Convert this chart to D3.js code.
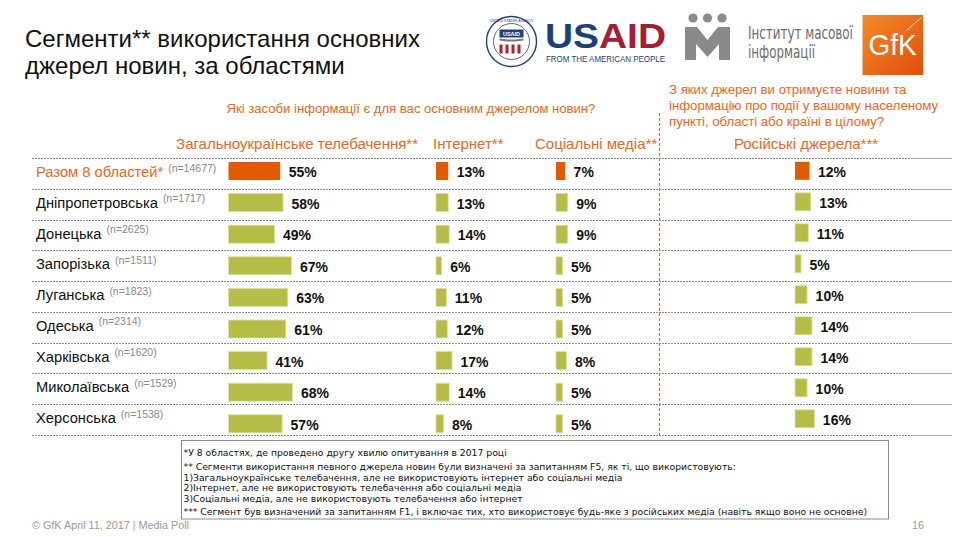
<!DOCTYPE html>
<html>
<head>
<meta charset="utf-8">
<script src="https://cdn.jsdelivr.net/npm/d3@7"></script>
<style>
  html, body { margin: 0; padding: 0; background: #fff; }
  svg { display: block; font-family: "Liberation Sans", Arial, sans-serif; }
  .narrow { font-family: "Liberation Sans Narrow", "Arial Narrow", "DejaVu Sans Condensed", sans-serif; font-stretch: condensed; }
</style>
</head>
<body>
<svg id="chart" width="956" height="537"></svg>
<script>
// ---------------- DATA ----------------
const regions = ["Разом 8 областей*", "Дніпропетровська", "Донецька", "Запорізька", "Луганська", "Одеська", "Харківська", "Миколаївська", "Херсонська"];
const sampleSizes = ["14677", "1717", "2625", "1511", "1823", "2314", "1620", "1529", "1538"];
const tvValues = [55, 58, 49, 67, 63, 61, 41, 68, 57];
const internetValues = [13, 13, 14, 6, 11, 12, 17, 14, 8];
const socialValues = [7, 9, 9, 5, 5, 5, 8, 5, 5];
const russianValues = [12, 13, 11, 5, 10, 14, 14, 10, 16];
const columnTitles = ["Загальноукраїнське телебачення**", "Інтернет**", "Соціальні медіа**", "Російські джерела***"];
const titleLines = ["Сегменти** використання основних", "джерел новин, за областями"];
const question1 = "Які засоби інформації є для вас основним джерелом новин?";
const question2Lines = ["З яких джерел ви отримуєте новини та", "інформацію про події у вашому населеному", "пункті, області або країні в цілому?"];
const footnoteLines = [
  "*У 8 областях, де проведено другу хвилю опитування в 2017 році",
  "** Сегменти використання певного джерела новин були визначені за запитанням F5, як ті, що використовують:",
  "1)Загальноукраїнське телебачення, але не використовують інтернет або соціальні медіа",
  "2)Інтернет, але не використовують телебачення або соціальні медіа",
  "3)Соціальні медіа, але не використовують телебачення або інтернет",
  "*** Сегмент був визначений за запитанням F1, і включає тих, хто використовує будь-яке з російських медіа (навіть якщо воно не основне)"
];
const imiLines = ["Інститут масової", "інформації"];
const footerText = ["© GfK April 11, 2017 ", "|", " Media Poll"];
const pageNumber = "16";

// ---------------- STYLE ----------------
const ORANGE_BAR = "#E25B04";
const GREEN_BAR = "#B6BD47";
const ORANGE_TEXT = "#E8681C";

const svg = d3.select("#chart");

// ---------------- TITLE ----------------
svg.append("g").selectAll("text").data(titleLines).join("text")
  .attr("x", 25).attr("y", (d, i) => 47 + i * 27)
  .attr("font-size", 24).attr("fill", "#111").text(d => d);

// ---------------- LOGOS ----------------
const logos = svg.append("g");
// USAID seal
const seal = logos.append("g").attr("transform", "translate(511.5,41.5)");
seal.append("circle").attr("r", 25).attr("fill", "#fff").attr("stroke", "#24407a").attr("stroke-width", 1.4);
seal.append("circle").attr("r", 18).attr("fill", "#fff").attr("stroke", "#24407a").attr("stroke-width", 0.8);
seal.append("rect").attr("x", -12).attr("y", -12).attr("width", 24).attr("height", 8).attr("fill", "#24407a");
seal.append("text").attr("x", 0).attr("y", -5.5).attr("text-anchor", "middle").attr("font-size", 5.5).attr("font-weight", "bold").attr("fill", "#fff").text("USAID");
seal.append("path").attr("d", "M-12,-2 L-4,-1 L4,-1 L12,-2").attr("stroke", "#777").attr("stroke-width", 2).attr("fill", "none");
[0, 1, 2, 3].forEach(k => {
  seal.append("rect").attr("x", -12 + k * 6).attr("y", 3).attr("width", 3).attr("height", 9).attr("fill", "#b3202e");
});
seal.append("text").attr("font-size", 3.6).attr("fill", "#24407a").attr("text-anchor", "middle").attr("y", -19.5).text("UNITED STATES AGENCY");
// USAID wordmark
const usaid = logos.append("text").attr("x", 545).attr("y", 48).attr("font-size", 35).attr("font-weight", "bold")
  .attr("textLength", 121).attr("lengthAdjust", "spacingAndGlyphs");
usaid.append("tspan").attr("fill", "#1d3f7c").text("US");
usaid.append("tspan").attr("fill", "#a51c34").text("AID");
logos.append("text").attr("x", 546).attr("y", 62).attr("font-size", 9.5).attr("fill", "#1d3f7c")
  .attr("textLength", 119).attr("lengthAdjust", "spacingAndGlyphs").text("FROM THE AMERICAN PEOPLE");
// IMI logo
[693, 707.5, 722].forEach(cx => logos.append("circle").attr("cx", cx).attr("cy", 18).attr("r", 4.6).attr("fill", "#8c8c8c"));
logos.append("path")
  .attr("d", "M685,27 L697,27 L707.5,40 L718,27 L730,27 L730,60 L719,60 L719,44 L707.5,57 L696,44 L696,60 L685,60 Z")
  .attr("fill", "#8a8a8a");
const imiG = logos.append("g").attr("transform", "translate(748,0)");
const imiTexts = imiG.selectAll("text").data(imiLines).join("text")
  .attr("class", "narrow").attr("x", 0).attr("y", (d, i) => 39 + i * 19)
  .attr("font-size", 17).attr("fill", "#6b6b6b").text(d => d);
const imiLen = imiTexts.node().getComputedTextLength();
const imiK = imiLen > 0 ? 105 / imiLen : 1;
imiG.attr("transform", `translate(748,0) scale(${imiK},1)`);
// GfK logo
const defs = svg.append("defs");
const grad = defs.append("linearGradient").attr("id", "gfkGrad").attr("x1", "0").attr("y1", "0").attr("x2", "1").attr("y2", "1");
grad.append("stop").attr("offset", "0%").attr("stop-color", "#F58A2A");
grad.append("stop").attr("offset", "100%").attr("stop-color", "#E04E0C");
logos.append("rect").attr("x", 862.5).attr("y", 15).attr("width", 60.5).attr("height", 60).attr("fill", "url(#gfkGrad)");
logos.append("path").attr("d", "M906,31 L922,17").attr("stroke", "#fff").attr("stroke-opacity", 0.8).attr("stroke-width", 1);
logos.append("text").attr("x", 892.5).attr("y", 55).attr("text-anchor", "middle").attr("font-size", 29).attr("fill", "#fff")
  .attr("textLength", 48).attr("lengthAdjust", "spacingAndGlyphs").text("GfK");

// ---------------- QUESTIONS ----------------
svg.append("text").attr("x", 411).attr("y", 113).attr("text-anchor", "middle")
  .attr("font-size", 13.1).attr("fill", ORANGE_TEXT).text(question1);
svg.append("g").selectAll("text").data(question2Lines).join("text")
  .attr("x", 669).attr("y", (d, i) => 94 + i * 15.8)
  .attr("font-size", 13.2).attr("fill", ORANGE_TEXT).text(d => d);

// ---------------- COLUMN HEADERS ----------------
const headerPos = [
  { x: 418, anchor: "end" },
  { x: 433, anchor: "start" },
  { x: 535, anchor: "start" },
  { x: 806, anchor: "middle" }
];
svg.append("g").selectAll("text").data(columnTitles).join("text")
  .attr("x", (d, i) => headerPos[i].x).attr("y", 149)
  .attr("text-anchor", (d, i) => headerPos[i].anchor)
  .attr("font-size", 15).attr("fill", ORANGE_TEXT).text(d => d);

// ---------------- SCALES ----------------
const rowBand = d3.scaleBand().domain(regions).range([158, 435]);
const barBand = d3.scaleBand().domain(regions).range([155.2, 439.6]).paddingInner(0.43).paddingOuter(0.215);
const ruBand = d3.scaleBand().domain(regions).range([155.3, 434.3]).paddingInner(0.42).paddingOuter(0.21);

const columns = [
  { values: tvValues, x0: 228.5, scale: d3.scaleLinear().domain([0, 100]).range([0, 94]), band: barBand },
  { values: internetValues, x0: 436, scale: d3.scaleLinear().domain([0, 100]).range([0, 94]), band: barBand },
  { values: socialValues, x0: 556, scale: d3.scaleLinear().domain([0, 100]).range([0, 130]), band: barBand },
  { values: russianValues, x0: 795, scale: d3.scaleLinear().domain([0, 100]).range([0, 121]), band: ruBand }
];

// ---------------- SEPARATORS ----------------
const sepYs = regions.map(r => rowBand(r)).concat([rowBand.range()[1]]);
const sepG = svg.append("g");
sepG.selectAll("line.d").data(sepYs).join("line").attr("class", "d")
  .attr("x1", 32).attr("x2", 912).attr("y1", d => Math.round(d) + 0.5).attr("y2", d => Math.round(d) + 0.5)
  .attr("stroke", "#8a8a8a").attr("stroke-width", 1).attr("stroke-dasharray", "2,1");
sepG.selectAll("line.s").data(sepYs).join("line").attr("class", "s")
  .attr("x1", 912).attr("x2", 952).attr("y1", d => Math.round(d) + 0.5).attr("y2", d => Math.round(d) + 0.5)
  .attr("stroke", "#a8a8a8").attr("stroke-width", 1.2);

// vertical divider
svg.append("line").attr("x1", 659.5).attr("x2", 659.5).attr("y1", 113).attr("y2", 435)
  .attr("stroke", ORANGE_TEXT).attr("stroke-width", 1.2).attr("stroke-dasharray", "3,2");

// ---------------- ROW LABELS ----------------
const labels = svg.append("g").selectAll("text").data(regions).join("text")
  .attr("x", 36).attr("y", d => rowBand(d) + 19)
  .attr("font-size", 14.7).attr("fill", (d, i) => i === 0 ? ORANGE_TEXT : "#111");
labels.append("tspan").text(d => d);
labels.append("tspan").attr("dx", 5).attr("dy", -5.5).attr("font-size", 10.5).attr("fill", "#8a8a8a")
  .text((d, i) => "(n=" + sampleSizes[i] + ")");

// ---------------- BARS ----------------
columns.forEach(col => {
  const g = svg.append("g");
  g.selectAll("rect").data(regions).join("rect")
    .attr("x", col.x0)
    .attr("y", d => col.band(d))
    .attr("width", (d, i) => col.scale(col.values[i]))
    .attr("height", col.band.bandwidth())
    .attr("fill", (d, i) => i === 0 ? ORANGE_BAR : GREEN_BAR)
    .attr("stroke", (d, i) => i === 0 ? "none" : "#dde0a4").attr("stroke-width", 0.8);
  g.selectAll("text").data(regions).join("text")
    .attr("x", (d, i) => col.x0 + col.scale(col.values[i]) + 8.5)
    .attr("y", d => col.band(d) + col.band.bandwidth() / 2 + 6)
    .attr("font-size", 14).attr("font-weight", "bold").attr("fill", "#111")
    .text((d, i) => col.values[i] + "%");
});

// ---------------- FOOTNOTES ----------------
svg.append("rect").attr("x", 181.5).attr("y", 440.5).attr("width", 707).attr("height", 78.5)
  .attr("fill", "#fff").attr("stroke", "#6e6e6e").attr("stroke-width", 0.8);
const fnY = [456, 470, 481, 491.5, 502, 515];
const fnG = svg.append("g").attr("transform", "translate(183.5,0)");
const fnTexts = fnG.selectAll("text").data(footnoteLines).join("text")
  .attr("class", "narrow").attr("x", 0).attr("y", (d, i) => fnY[i])
  .attr("font-size", 9.3).attr("fill", "#111").text(d => d);
// stretch horizontally so the longest line spans the reference width (~685px)
const longest = d3.max(fnTexts.nodes(), n => n.getComputedTextLength());
const kx = longest > 0 ? 685 / longest : 1;
fnG.attr("transform", `translate(183.5,0) scale(${kx},1)`);

// ---------------- FOOTER ----------------
const foot = svg.append("text").attr("x", 32).attr("y", 529).attr("font-size", 10.8).attr("fill", "#9a9a9a");
foot.selectAll("tspan").data(footerText).join("tspan")
  .attr("fill", (d, i) => i === 1 ? "#E8A24E" : "#9a9a9a").text(d => d);
svg.append("text").attr("x", 912).attr("y", 529).attr("font-size", 10.8).attr("fill", "#9a9a9a").text(pageNumber);
</script>
</body>
</html>
